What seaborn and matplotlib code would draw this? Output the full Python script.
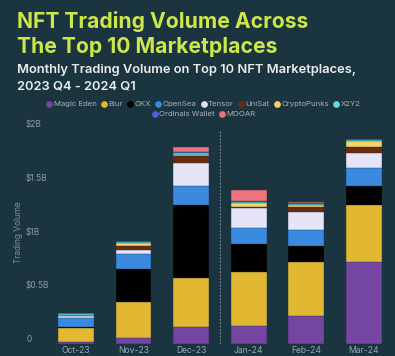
import matplotlib
matplotlib.use("Agg")
import matplotlib.pyplot as plt
from matplotlib.lines import Line2D
import seaborn as sns
import pandas as pd

# monthly volume per marketplace, in billions USD
months = ["Oct-23", "Nov-23", "Dec-23", "Jan-24", "Feb-24", "Mar-24"]
magic_eden = [0.020, 0.059, 0.155, 0.167, 0.264, 0.760]
blur = [0.130, 0.329, 0.456, 0.500, 0.500, 0.530]
okx = [0.005, 0.310, 0.682, 0.264, 0.143, 0.183]
opensea = [0.090, 0.140, 0.174, 0.149, 0.155, 0.167]
tensor = [0.012, 0.040, 0.220, 0.189, 0.164, 0.134]
unisat = [0.003, 0.036, 0.065, 0.009, 0.050, 0.062]
cryptopunks = [0.005, 0.022, 0.009, 0.037, 0.020, 0.056]
x2y2 = [0.015, 0.012, 0.012, 0.009, 0.010, 0.005]
ordinals_wallet = [0.003, 0.008, 0.012, 0.009, 0.006, 0.012]
mooar = [0.003, 0.006, 0.043, 0.099, 0.006, 0.002]

markets = ["Magic Eden", "Blur", "OKX", "OpenSea", "Tensor", "UniSat",
           "CryptoPunks", "X2Y2", "Ordinals Wallet", "MOOAR"]
values = [magic_eden, blur, okx, opensea, tensor, unisat,
          cryptopunks, x2y2, ordinals_wallet, mooar]
colors = ["#7445a1", "#e2b731", "#000000", "#3b8ae2", "#e6e4f7", "#6a2c0c",
          "#f5d467", "#5fdfe6", "#4b5fe0", "#f0727a"]

bg = "#1b3540"
grey = "#9aa8ae"

plt.rcParams["font.family"] = ["Inter", "DejaVu Sans"]

df = pd.DataFrame(dict(zip(markets, values)), index=months)
cum = df.cumsum(axis=1)

fig = plt.figure(figsize=(3.95, 3.56), dpi=100, facecolor=bg)
ax = fig.add_axes([32 / 395, 12 / 356, 1 - 32 / 395, (344 - 129) / 356])
ax.set_facecolor(bg)

# stacked bars: draw cumulative totals from the top layer down
for m, c in zip(markets[::-1], colors[::-1]):
    sns.barplot(x=months, y=cum[m].values, order=months, color=c, saturation=1,
                width=0.62, edgecolor=bg, linewidth=0.3, ax=ax)

ax.set_xlim(-0.76, 5.54)
ax.set_ylim(0, 2.0)
ax.axhline(0, color="#34505b", lw=0.8)
ax.axvline(2.5, ymax=0.99, color="#7f8e95", lw=0.7, ls=(0, (2, 1.5)))

for s in ax.spines.values():
    s.set_visible(False)

ax.set_yticks([0, 0.5, 1, 1.5, 2])
ax.set_yticklabels(["0", "$0.5B", "$1B", "$1.5B", "$2B"])
ax.tick_params(axis="y", length=0, pad=4.3, labelsize=6.0, labelcolor="#8d9ba1")
for lab in ax.get_yticklabels():
    lab.set_ha("left")
    lab.set_va("bottom")
ax.tick_params(axis="x", length=0, pad=1.5, labelsize=6.2, labelcolor=grey)
ax.set_xlabel("")
ax.set_ylabel("Trading Volume", fontsize=6.0, color="#7f8f96")
ax.yaxis.set_label_coords(-0.025, 0.52)

# titles
fig.text(17 / 395, 1 - 22 / 356, "NFT Trading Volume Across", color="#cde64a",
         fontsize=15.2, fontweight="bold", va="center", ha="left")
fig.text(17 / 395, 1 - 47 / 356, "The Top 10 Marketplaces", color="#cde64a",
         fontsize=15.2, fontweight="bold", va="center", ha="left")
fig.text(17 / 395, 1 - 70 / 356, "Monthly Trading Volume on Top 10 NFT Marketplaces,",
         color="#ececec", fontsize=9.3, fontweight="semibold", va="center", ha="left")
fig.text(17 / 395, 1 - 87 / 356, "2023 Q4 - 2024 Q1",
         color="#ececec", fontsize=9.3, fontweight="semibold", va="center", ha="left")

# legend in two centred rows
handles = [Line2D([], [], marker="o", ls="", color=c, markersize=3.8) for c in colors]
leg_kw = dict(frameon=False, fontsize=5.6, labelcolor="#a7b3b9", handletextpad=0.05,
              columnspacing=0.45, handlelength=1.0, borderpad=0, loc="center")
fig.legend(handles[:8], markets[:8], ncol=8,
           bbox_to_anchor=(203 / 395, 1 - 104 / 356), **leg_kw)
fig.legend(handles[8:], markets[8:], ncol=2,
           bbox_to_anchor=(203 / 395, 1 - 114 / 356), **leg_kw)

fig.savefig("out.png", dpi=100, facecolor=bg)
